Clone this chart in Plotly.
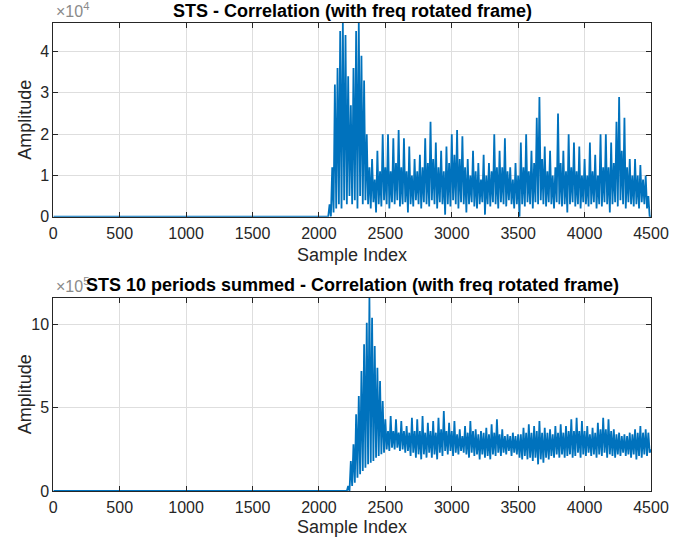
import plotly.graph_objects as go

# ---------------- data ----------------
# Top panel: amplitude in units of 1e4, signal starts near sample 2080,
# one peak + one trough read every 20 samples.
top_start = 2080
top_step = 20
top_peaks = [
    0.3, 1.2, 3.2, 3.6, 4.5, 4.7, 4.4, 3.4, 2.7, 3.6,
    4.5, 4.7, 3.9, 3.3, 2.0, 1.2, 1.4, 0.9, 1.6, 1.1,
    2.0, 1.2, 2.0, 1.1, 1.9, 1.3, 2.1, 1.2, 1.9, 1.1,
    1.7, 1.0, 1.4, 1.1, 1.5, 1.2, 1.9, 1.3, 2.3, 1.4,
    1.8, 1.2, 1.6, 1.1, 1.7, 1.3, 2.0, 1.5, 2.1, 1.4,
    1.95, 1.2, 1.4, 1.0, 1.6, 1.1, 1.3, 0.9, 1.5, 1.0,
    1.3, 1.1, 2.0, 1.2, 1.6, 1.2, 1.9, 1.1, 1.2, 0.9,
    1.3, 1.0, 1.8, 1.2, 2.0, 1.1, 1.6, 1.3, 2.4, 2.9,
    1.4, 1.7, 1.1, 1.6, 1.0, 1.2, 2.5, 1.3, 1.6, 1.1,
    2.0, 1.2, 1.8, 1.1, 1.7, 1.0, 1.4, 1.0, 1.8, 1.1,
    1.5, 1.0, 2.0, 1.2, 2.0, 1.2, 1.8, 1.3, 2.3, 2.9,
    1.6, 2.4, 1.2, 1.4, 1.0, 1.4, 1.0, 1.25, 0.9, 1.0,
    0.5,
]
top_troughs = [
    0.0, 0.1, 0.2, 0.3, 0.2, 0.4, 0.3, 0.5, 0.3, 0.4,
    0.2, 0.5, 0.3, 0.4, 0.3, 0.2, 0.35, 0.1, 0.3, 0.25,
    0.4, 0.3, 0.2, 0.35, 0.3, 0.4, 0.25, 0.3, 0.35, 0.1,
    0.3, 0.25, 0.4, 0.3, 0.2, 0.35, 0.3, 0.25, 0.4, 0.3,
    0.2, 0.35, 0.3, 0.05, 0.3, 0.25, 0.4, 0.3, 0.2, 0.35,
    0.3, 0.1, 0.3, 0.35, 0.25, 0.2, 0.3, 0.35, 0.05, 0.3,
    0.25, 0.35, 0.3, 0.2, 0.35, 0.3, 0.25, 0.4, 0.3, 0.2,
    0.3, 0.0, 0.3, 0.25, 0.35, 0.3, 0.2, 0.35, 0.3, 0.4,
    0.3, 0.25, 0.35, 0.3, 0.2, 0.35, 0.3, 0.25, 0.3, 0.1,
    0.3, 0.35, 0.25, 0.3, 0.2, 0.35, 0.3, 0.25, 0.3, 0.35,
    0.2, 0.3, 0.25, 0.35, 0.3, 0.1, 0.3, 0.35, 0.25, 0.4,
    0.3, 0.2, 0.35, 0.3, 0.25, 0.3, 0.2, 0.35, 0.3, 0.2,
    0.0,
]
top_end_value = 0.0

# Bottom panel: amplitude in units of 1e5, signal starts near sample 2220.
bot_start = 2220
bot_step = 20
bot_peaks = [
    0.3, 1.8, 2.8, 4.6, 5.7, 7.2, 8.8, 10.1, 11.6, 10.4,
    8.7, 7.4, 6.6, 5.4, 4.3, 3.6, 4.5, 3.6, 4.3, 3.5,
    4.2, 3.6, 3.9, 3.5, 4.4, 3.6, 4.3, 3.6, 4.5, 3.5,
    4.1, 3.6, 4.2, 3.5, 4.4, 3.7, 4.8, 3.6, 4.1, 3.6,
    4.2, 3.4, 3.7, 3.3, 3.9, 3.5, 4.2, 3.6, 3.7, 3.4,
    3.6, 3.5, 3.8, 3.4, 4.0, 3.5, 4.3, 3.4, 3.7, 3.3,
    3.4, 3.3, 3.5, 3.3, 3.4, 3.4, 3.8, 3.5, 4.0, 3.5,
    3.9, 3.6, 4.2, 3.5, 3.8, 3.5, 3.7, 3.4, 3.9, 3.5,
    4.0, 3.5, 3.9, 3.6, 4.3, 3.6, 4.4, 3.6, 4.2, 3.6,
    3.9, 3.4, 3.8, 3.5, 4.1, 3.7, 4.4, 3.7, 4.3, 3.6,
    3.7, 3.4, 3.5, 3.3, 3.4, 3.3, 3.5, 3.4, 3.7, 3.5,
    3.9, 3.5, 3.7, 3.5,
]
bot_troughs = [
    0.0, 0.3, 0.5, 0.8, 1.0, 1.2, 1.4, 1.6, 1.7, 1.8,
    2.0, 2.1, 2.2, 2.3, 2.5, 2.4, 2.6, 2.5, 2.6, 2.4,
    2.5, 2.3, 2.4, 2.1, 2.3, 2.0, 2.2, 1.9, 2.2, 2.0,
    2.3, 2.0, 2.2, 1.9, 2.3, 2.1, 2.4, 2.2, 2.4, 2.1,
    2.3, 2.2, 2.4, 2.3, 2.2, 2.0, 2.3, 2.1, 2.2, 1.9,
    2.2, 2.0, 2.1, 1.9, 2.2, 2.1, 2.3, 2.1, 2.3, 2.2,
    2.4, 2.1, 2.3, 2.2, 2.0, 1.9, 2.1, 1.9, 2.0, 1.8,
    2.0, 1.6, 1.9, 1.7, 2.0, 1.9, 2.1, 2.0, 2.2, 2.0,
    2.2, 2.0, 2.1, 2.2, 2.0, 2.1, 2.3, 2.0, 2.2, 2.1,
    2.3, 2.1, 2.2, 2.0, 2.2, 2.1, 2.3, 2.0, 2.2, 2.1,
    2.0, 2.2, 2.1, 2.3, 2.1, 2.2, 2.0, 2.2, 1.9, 2.1,
    2.0, 2.2, 2.1, 2.3,
]
bot_end_value = 2.5

x_last = 4500
x_ticks = [0, 500, 1000, 1500, 2000, 2500, 3000, 3500, 4000, 4500]
top_yticks = [0, 1, 2, 3, 4]
bot_yticks = [0, 5, 10]
top_ymax = 4.7
bot_ymax = 11.6

top_title = "STS - Correlation (with freq rotated frame)"
bot_title = "STS 10 periods summed - Correlation (with freq rotated frame)"
x_label = "Sample Index"
y_label = "Amplitude"


def build(start, step, peaks, troughs, end_value):
    xs, ys = [1, start - step / 2], [0, 0]
    for i, (p, t) in enumerate(zip(peaks, troughs)):
        xs += [start + step * i, start + step * i + step / 2]
        ys += [p, t]
    xs.append(x_last)
    ys.append(end_value)
    return xs, ys


tx, ty = build(top_start, top_step, top_peaks, top_troughs, top_end_value)
bx, by = build(bot_start, bot_step, bot_peaks, bot_troughs, bot_end_value)

W, H = 673, 550
BLUE = "#0072BD"
AX = "#262626"
GRID = "#dedede"
FONT = "Liberation Sans, Arial, sans-serif"

# axes placement in pixels
L, R = 53.3, 651.0
top_t, top_b = 22.7, 216.7
bot_t, bot_b = 297.7, 491.0


def px(x):
    return x / W


def py(y):
    return 1 - y / H


fig = go.Figure()
fig.add_trace(go.Scatter(x=tx, y=ty, mode="lines", line=dict(color=BLUE, width=1.8),
                         xaxis="x", yaxis="y", showlegend=False, hoverinfo="skip"))
fig.add_trace(go.Scatter(x=bx, y=by, mode="lines", line=dict(color=BLUE, width=1.8),
                         xaxis="x2", yaxis="y2", showlegend=False, hoverinfo="skip"))

axis_common = dict(
    showline=True, linecolor=AX, linewidth=1, mirror="allticks",
    ticks="inside", ticklen=5, tickcolor=AX, tickwidth=1,
    showgrid=True, gridcolor=GRID, gridwidth=1, zeroline=False,
    tickfont=dict(family=FONT, size=16, color=AX), automargin=False,
)

fig.update_layout(
    width=W, height=H, paper_bgcolor="white", plot_bgcolor="white",
    margin=dict(l=0, r=0, t=0, b=0),
    xaxis=dict(domain=[px(L), px(R)], anchor="y", range=[0, 4500],
               tickvals=x_ticks, ticklabelstandoff=2, **axis_common),
    yaxis=dict(domain=[py(top_b), py(top_t)], anchor="x", range=[0, top_ymax],
               tickvals=top_yticks, ticklabelstandoff=0, **axis_common),
    xaxis2=dict(domain=[px(L), px(R)], anchor="y2", range=[0, 4500],
                tickvals=x_ticks, ticklabelstandoff=2, **axis_common),
    yaxis2=dict(domain=[py(bot_b), py(bot_t)], anchor="x2", range=[0, bot_ymax],
                tickvals=bot_yticks, ticklabelstandoff=0, **axis_common),
)

ann = []
# exponent labels
ann.append(dict(x=px(L + 1), y=py(top_t - 1), xref="paper", yref="paper",
                xanchor="left", yanchor="bottom", showarrow=False,
                text="\u00d710<sup>4</sup>", font=dict(family=FONT, size=16, color="#8a8a8a")))
ann.append(dict(x=px(L + 1), y=py(bot_t - 1), xref="paper", yref="paper",
                xanchor="left", yanchor="bottom", showarrow=False,
                text="\u00d710<sup>5</sup>", font=dict(family=FONT, size=16, color="#8a8a8a")))
# axis labels
for yc, yl in [((top_t + top_b) / 2, 255), ((bot_t + bot_b) / 2, 527)]:
    ann.append(dict(x=px(25), y=py(yc), xref="paper", yref="paper",
                    xanchor="center", yanchor="middle", showarrow=False, textangle=-90,
                    text=y_label, font=dict(family=FONT, size=18, color=AX)))
    ann.append(dict(x=px((L + R) / 2), y=py(yl), xref="paper", yref="paper",
                    xanchor="center", yanchor="middle", showarrow=False,
                    text=x_label, font=dict(family=FONT, size=18, color=AX)))
# titles
ann.append(dict(x=px((L + R) / 2), y=py(11), xref="paper", yref="paper",
                xanchor="center", yanchor="middle", showarrow=False,
                text="<b>" + top_title + "</b>", font=dict(family=FONT, size=18, color="black")))
ann.append(dict(x=px((L + R) / 2), y=py(285), xref="paper", yref="paper",
                xanchor="center", yanchor="middle", showarrow=False,
                text="<b>" + bot_title + "</b>", font=dict(family=FONT, size=18, color="black")))
fig.update_layout(annotations=ann)

fig.write_html("out.html")
